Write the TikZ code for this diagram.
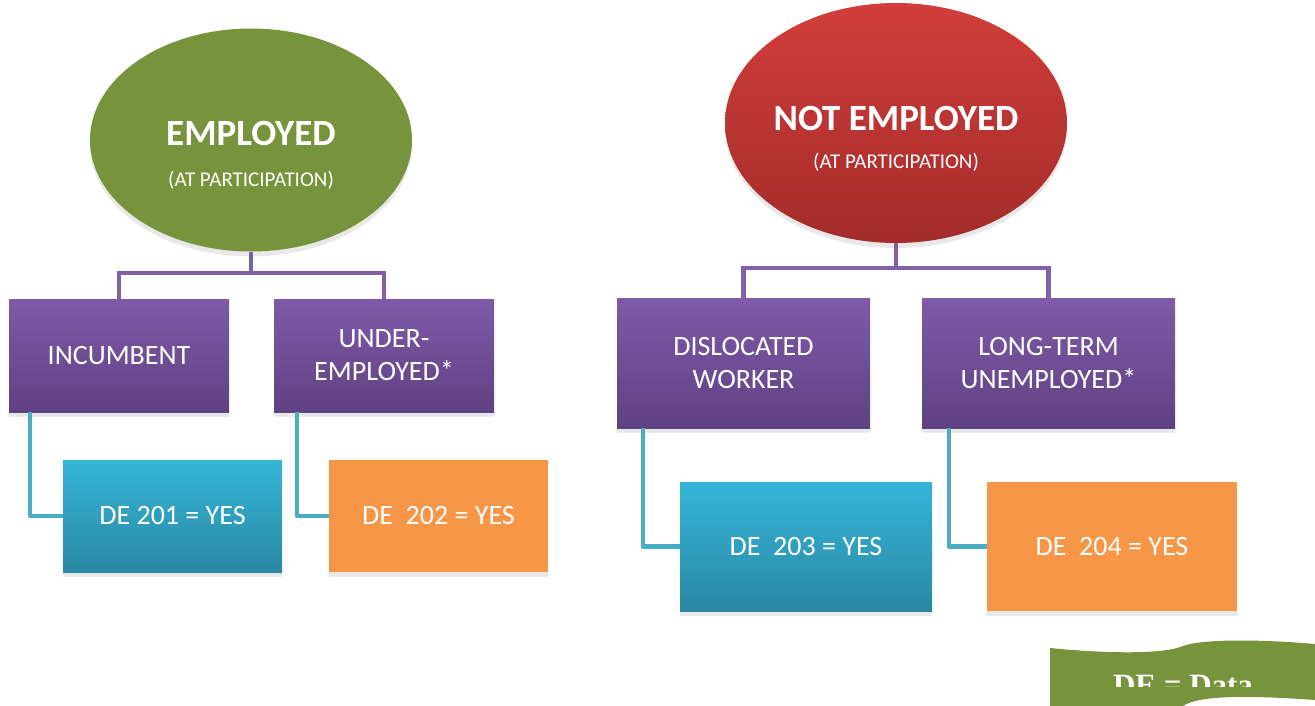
\documentclass[tikz,border=0pt]{standalone}
\usepackage{fontspec}
\setmainfont{Carlito}
\newfontfamily\bannerfont{Liberation Serif}
\usetikzlibrary{shapes.geometric,shadows,calc}

\definecolor{empgreen}{HTML}{77933C}
\definecolor{redtop}{HTML}{D13E3B}
\definecolor{redbot}{HTML}{A32B2B}
\definecolor{cattop}{HTML}{7F5AA8}
\definecolor{catbot}{HTML}{5F4282}
\definecolor{catline}{HTML}{7F62A6}
\definecolor{detop}{HTML}{35B5D8}
\definecolor{debot}{HTML}{2A88A3}
\definecolor{deorange}{HTML}{F79646}
\definecolor{deline}{HTML}{4BACC6}

\tikzset{
  softshadow/.style={drop shadow={shadow xshift=0pt,shadow yshift=-5pt,fill=black,opacity=0.09}},
  status/.style={ellipse,inner sep=0pt,softshadow},
  title/.style={text=white,font=\fontsize{37}{40}\selectfont\bfseries,inner sep=0pt},
  subtitle/.style={text=white,font=\fontsize{21}{24}\selectfont,inner sep=0pt},
  catbox/.style={rectangle,inner sep=0pt,top color=cattop,bottom color=catbot,
    text=white,align=center,font=\fontsize{28}{33}\selectfont,softshadow},
  debox/.style={rectangle,inner sep=0pt,text=white,font=\fontsize{28}{33}\selectfont,softshadow},
  deblue/.style={top color=detop,bottom color=debot},
  deorg/.style={fill=deorange},
  catlink/.style={draw=catline,line width=4.5pt},
  delink/.style={draw=deline,line width=4.5pt,line join=round}
}

\begin{document}
\begin{tikzpicture}[x=1pt,y=-1pt]
  \useasboundingbox (0,0) rectangle (1315,706);

  % status at participation
  \node[status,fill=empgreen,minimum width=322,minimum height=223] (emp) at (251,140) {};
  \node[title] (empT) at (251,133) {EMPLOYED};
  \node[subtitle] (empS) at (251,180) {(AT PARTICIPATION)};

  \node[status,top color=redtop,bottom color=redbot,minimum width=342,minimum height=240] (nemp) at (896,123) {};
  \node[title] (nempT) at (896,118) {NOT EMPLOYED};
  \node[subtitle] (nempS) at (896,162) {(AT PARTICIPATION)};

  % categories
  \node[catbox,minimum width=220,minimum height=113] (inc) at (119,355.5) {INCUMBENT};
  \node[catbox,minimum width=220,minimum height=113] (und) at (384,355.5) {UNDER-\\EMPLOYED*};
  \node[catbox,minimum width=253,minimum height=130] (dis) at (743.5,363) {DISLOCATED\\WORKER};
  \node[catbox,minimum width=253,minimum height=130] (ltu) at (1048.5,363) {LONG-TERM\\UNEMPLOYED*};

  % data elements
  \node[debox,deblue,minimum width=219,minimum height=112] (de201) at (172.5,516) {DE 201 = YES};
  \node[debox,deorg,minimum width=219,minimum height=112] (de202) at (438.5,516) {DE\ \ 202 = YES};
  \node[debox,deblue,minimum width=252,minimum height=129] (de203) at (806,546.5) {DE\ \ 203 = YES};
  \node[debox,deorg,minimum width=250,minimum height=129] (de204) at (1112,546.5) {DE\ \ 204 = YES};

  % tree lines
  \coordinate (empJ) at (251,273);
  \coordinate (nempJ) at (896,268);
  \draw[catlink] (emp.south) -- (empJ);
  \draw[catlink] (inc.north) |- (empJ) -| (und.north);
  \draw[catlink] (nemp.south) -- (nempJ);
  \draw[catlink] (dis.north) |- (nempJ) -| (ltu.north);

  \draw[delink] ($(inc.south west)+(21,0)$) |- (de201.west);
  \draw[delink] ($(und.south west)+(23,0)$) |- (de202.west);
  \draw[delink] ($(dis.south west)+(26,0)$) |- (de203.west);
  \draw[delink] ($(ltu.south west)+(27,0)$) |- (de204.west);

  % banner, bottom right
  \fill[empgreen] (1050,648) .. controls (1110,654) and (1165,654) .. (1183,646)
    .. controls (1205,638) and (1270,640) .. (1315,644) -- (1315,700)
    .. controls (1260,696) and (1200,694) .. (1183,706) -- (1050,706) -- cycle;
  \begin{scope}
    \clip (1050,640) rectangle (1315,686);
    \node[text=white,font=\bannerfont\fontsize{31}{34}\selectfont\bfseries,anchor=base] (key) at (1183,695) {DE = Data};
  \end{scope}
\end{tikzpicture}
\end{document}
